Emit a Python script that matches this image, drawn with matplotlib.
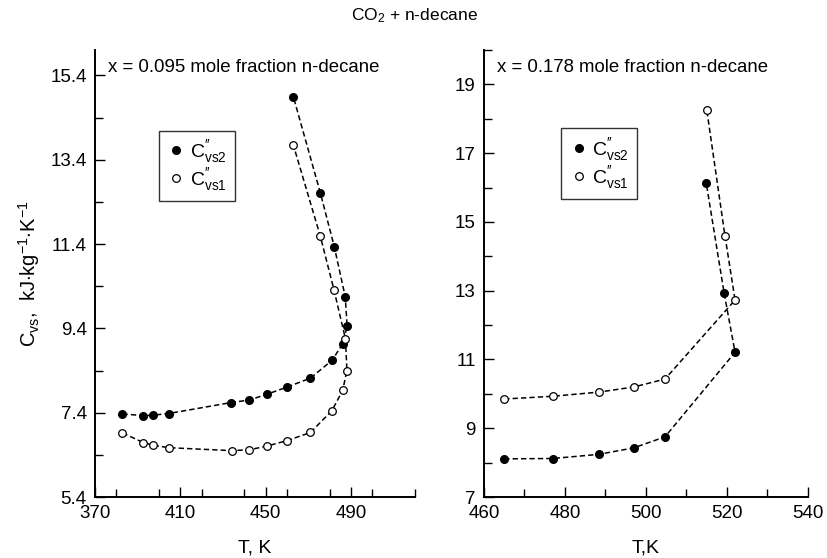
"""
CO2 + n-decane: isochoric heat capacity C_vs on both sides of the
two-phase boundary, for two n-decane mole fractions.
"""
import matplotlib
matplotlib.use("Agg")
import matplotlib.pyplot as plt
from matplotlib.ticker import MultipleLocator

plt.rcParams["font.family"] = ["Liberation Sans", "DejaVu Sans"]
plt.rcParams["mathtext.fontset"] = "custom"
plt.rcParams["mathtext.rm"] = "Liberation Sans"
plt.rcParams["mathtext.it"] = "Liberation Sans:italic"

# x = 0.095 mole fraction n-decane
t_a_vs2 = [382.9, 392.7, 397.1, 404.5, 433.8, 442.3, 450.8, 460.2, 471.0,
           481.1, 486.1, 488.2, 487.3, 482.2, 475.6, 463.0]
c_a_vs2 = [7.37, 7.33, 7.34, 7.38, 7.64, 7.70, 7.84, 8.01, 8.22,
           8.64, 9.03, 9.45, 10.15, 11.33, 12.62, 14.89]
t_a_vs1 = [382.9, 392.7, 397.1, 404.5, 434.0, 442.3, 450.8, 460.2, 471.0,
           481.1, 486.1, 488.1, 487.4, 482.0, 475.6, 462.9]
c_a_vs1 = [6.92, 6.69, 6.63, 6.57, 6.50, 6.52, 6.61, 6.74, 6.93,
           7.45, 7.93, 8.40, 9.15, 10.32, 11.59, 13.76]

# x = 0.178 mole fraction n-decane
t_b_vs2 = [465.0, 477.0, 488.3, 497.0, 504.7, 522.0, 519.3, 514.9]
c_b_vs2 = [8.11, 8.12, 8.24, 8.43, 8.75, 11.21, 12.93, 16.12]
t_b_vs1 = [465.0, 477.0, 488.3, 497.0, 504.7, 522.0, 519.5, 515.0]
c_b_vs1 = [9.85, 9.93, 10.05, 10.20, 10.43, 12.73, 14.60, 18.27]

LBL_VS2 = r"C$^{\prime\prime}_{\mathrm{vs2}}$"
LBL_VS1 = r"C$^{\prime\prime}_{\mathrm{vs1}}$"

fig = plt.figure(figsize=(8.28, 5.58), dpi=100)
ax1 = fig.add_axes([0.1147, 0.1093, 0.3865, 0.801])
ax2 = fig.add_axes([0.5845, 0.1093, 0.3913, 0.801])


def style_axes(ax):
    for side in ("top", "right"):
        ax.spines[side].set_visible(False)
    for side in ("left", "bottom"):
        ax.spines[side].set_linewidth(1.4)
    ax.tick_params(which="both", direction="in", width=1.0, labelsize=13.5,
                   pad=6)
    ax.tick_params(which="major", length=7)
    ax.tick_params(which="minor", length=6)


def draw(ax, t2, c2, t1, c1):
    ax.plot(t2, c2, color="black", ls=(0, (3.5, 2)), lw=1.1, zorder=2)
    ax.plot(t1, c1, color="black", ls=(0, (3.5, 2)), lw=1.1, zorder=2)
    ax.plot(t2, c2, "o", color="black", ms=5.5, ls="none", zorder=3,
            label=LBL_VS2)
    ax.plot(t1, c1, "o", mfc="white", mec="black", mew=0.9, ms=5.5,
            ls="none", zorder=3, label=LBL_VS1)


def add_legend(ax, anchor):
    leg = ax.legend(loc="upper left", bbox_to_anchor=anchor,
                    fontsize=14, frameon=True, fancybox=False,
                    handletextpad=0.2, handlelength=1.0, borderpad=0.4,
                    labelspacing=0.05, borderaxespad=0)
    leg.get_frame().set_edgecolor("black")
    leg.get_frame().set_linewidth(1.0)


draw(ax1, t_a_vs2, c_a_vs2, t_a_vs1, c_a_vs1)
style_axes(ax1)
ax1.set_xlim(370, 520)
ax1.set_ylim(5.4, 16.0)
ax1.set_xticks([370, 410, 450, 490])
ax1.xaxis.set_minor_locator(MultipleLocator(20))
ax1.set_yticks([5.4, 7.4, 9.4, 11.4, 13.4, 15.4])
ax1.set_yticks([6.4, 8.4, 10.4, 12.4, 14.4], minor=True)
ax1.set_xlabel("T, K", fontsize=14, labelpad=12)
ax1.set_ylabel(r"C$_{\mathrm{vs}}$,  kJ$\cdot$kg$^{-1}$$\cdot$K$^{-1}$",
               fontsize=14.5, labelpad=6)
ax1.text(0.04, 0.96, "x = 0.095 mole fraction n-decane",
         transform=ax1.transAxes, fontsize=13.4, va="center", ha="left")
add_legend(ax1, (0.2, 0.82))

draw(ax2, t_b_vs2, c_b_vs2, t_b_vs1, c_b_vs1)
style_axes(ax2)
ax2.set_xlim(460, 540)
ax2.set_ylim(7, 20)
ax2.xaxis.set_major_locator(MultipleLocator(20))
ax2.xaxis.set_minor_locator(MultipleLocator(10))
ax2.set_yticks([7, 9, 11, 13, 15, 17, 19])
ax2.yaxis.set_minor_locator(MultipleLocator(1))
ax2.set_xlabel("T,K", fontsize=14, labelpad=12)
ax2.text(0.04, 0.96, "x = 0.178 mole fraction n-decane",
         transform=ax2.transAxes, fontsize=13.4, va="center", ha="left")
add_legend(ax2, (0.238, 0.825))

fig.text(0.5, 0.972, r"CO$_2$ + n-decane", ha="center", va="center",
         fontsize=12.5)

fig.savefig("out.png", dpi=100)
